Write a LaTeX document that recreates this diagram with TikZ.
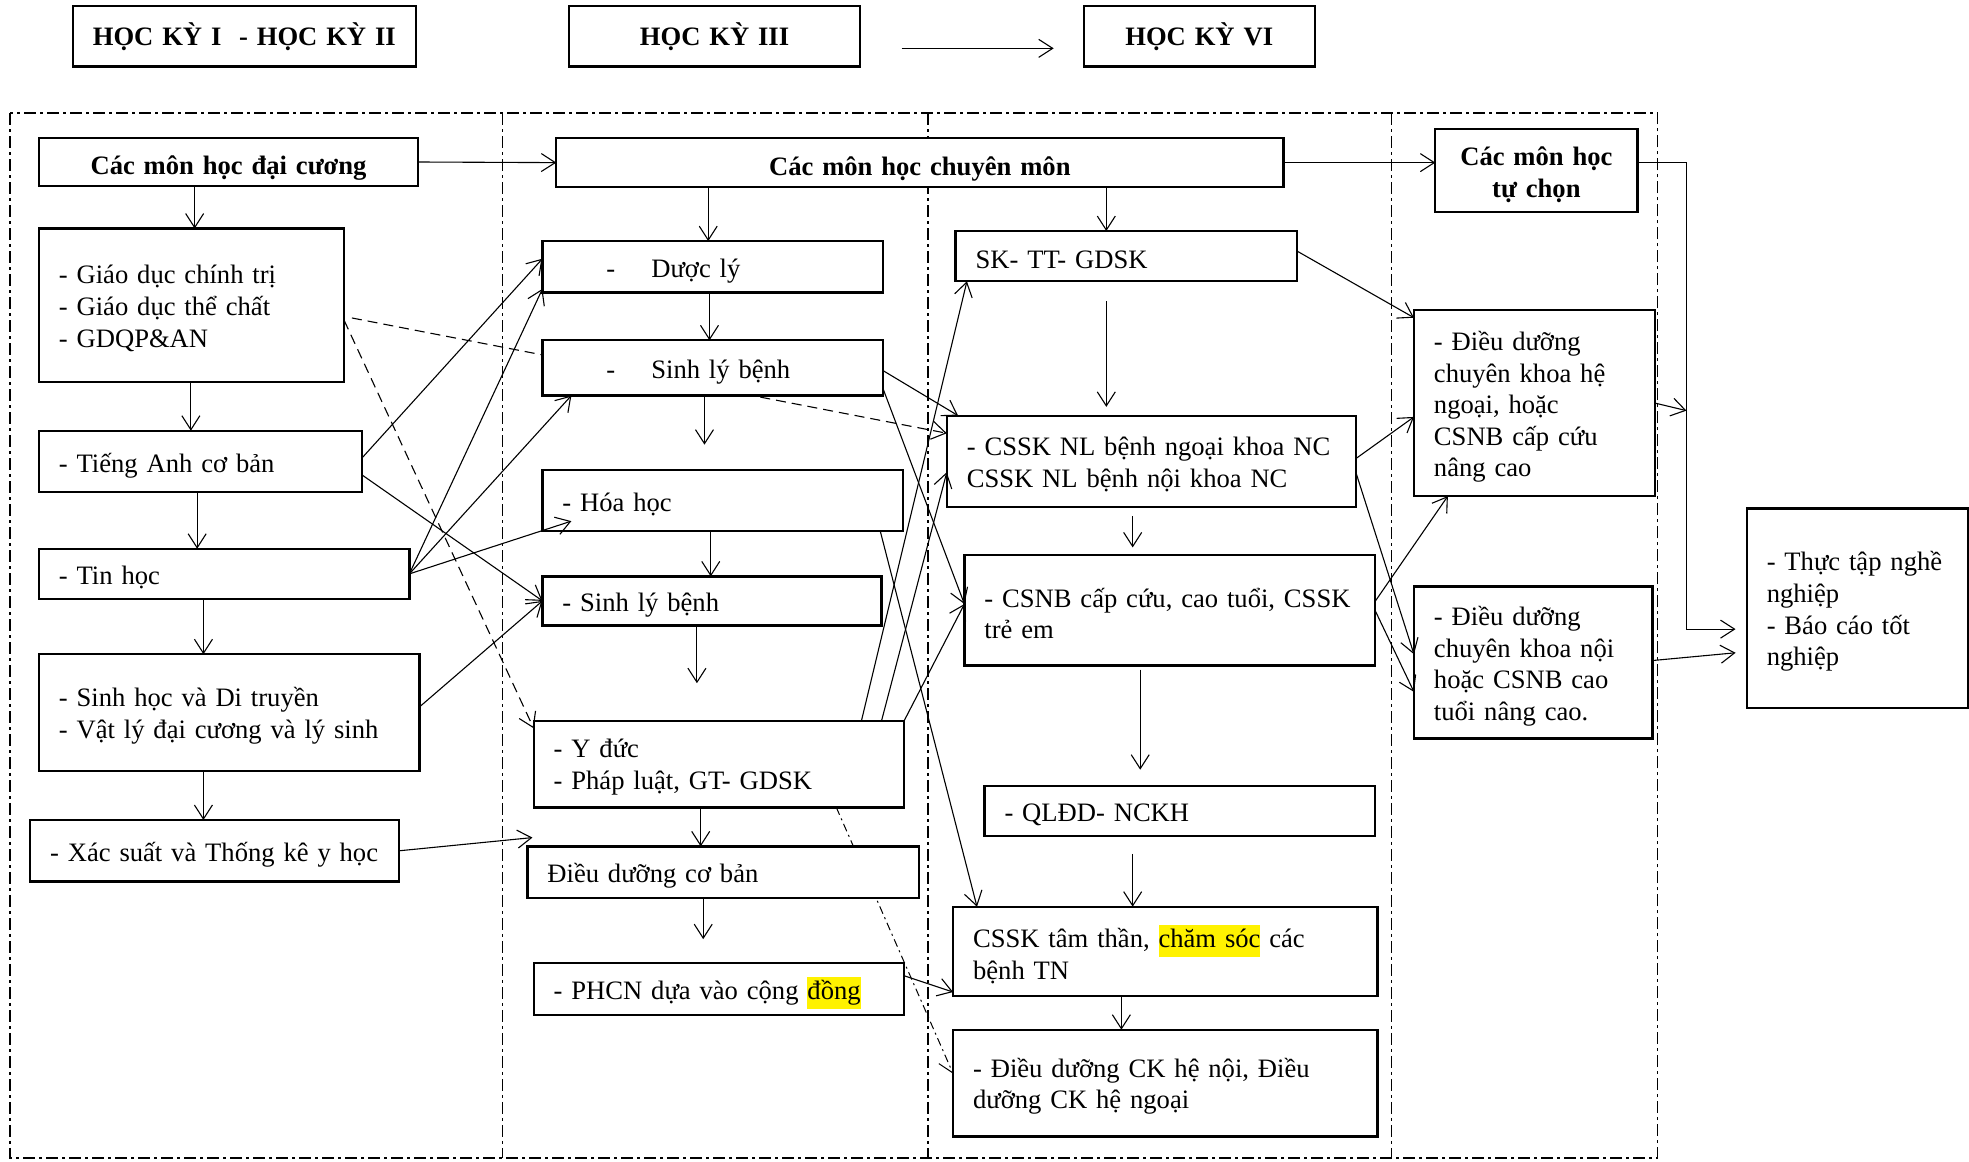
\documentclass[tikz,border=0pt]{standalone}
\usepackage{fontspec}
\setmainfont{Liberation Serif}
\usetikzlibrary{arrows.meta,calc}
\newcommand\myfs{\fontsize{13.3pt}{15.8pt}\selectfont}
\newcommand\hlt[1]{{\setlength{\fboxsep}{0pt}\colorbox{yellow}{\strut#1}}}
\pgfdeclarelayer{bg}
\pgfsetlayers{bg,main}
\tikzset{
  bx/.style 2 args={draw, line width=1.15pt, fill=white, anchor=north west,
     inner xsep=10pt, inner ysep=0pt, outer sep=0pt,
     minimum width=#1*0.6279pt, minimum height=#2*0.6279pt,
     text width=#1*0.6279pt-20pt, align=left, font=\myfs},
  cbx/.style 2 args={bx={#1}{#2}, align=center, font=\myfs\bfseries},
  arr/.style={line width=0.55pt, -{Straight Barb[length=7pt,width=9pt]}},
  dsh/.style={arr, dash pattern=on 5pt off 3pt},
  dshdot/.style={arr, line width=0.5pt, dash pattern=on 4pt off 2pt on 1pt off 2pt},
  framel/.style={line width=0.8pt, dash pattern=on 6pt off 2pt on 1.5pt off 2pt},
}
% #1 style, #2 name, #3 x, #4 y, #5 w, #6 h, #7 text shift, #8 text
\newcommand\bnode[8]{%
  \node[#1={#5}{#6}] (#2) at (#3,#4) {};
  \node[#1={#5}{#6}, draw=none, fill=none, minimum height=0pt, anchor=center,
        yshift=#7] (#2-t) at (#2.center) {#8};
}
\begin{document}
\begin{tikzpicture}[x=0.6279pt,y=-0.6279pt]
\useasboundingbox (0,0) rectangle (1568,925);
% headers
\bnode{cbx}{H1}{58}{5}{273}{48}{0pt}{\mbox{HỌC KỲ I \ - HỌC KỲ II}}
\bnode{cbx}{H2}{453}{5}{232}{48}{0pt}{HỌC KỲ III}
\bnode{cbx}{H3}{863}{5}{184}{48}{0pt}{HỌC KỲ VI}
% column 1
\bnode{cbx}{A}{31}{110}{302}{38}{-3.1pt}{Các môn học đại cương}
\bnode{bx}{B}{31}{182}{243}{122}{-1.6pt}{- Giáo dục chính trị\\- Giáo dục thể chất\\- GDQP\&AN}
\bnode{bx}{C}{31}{343}{257}{49}{-1.9pt}{- Tiếng Anh cơ bản}
\bnode{bx}{D}{31}{437}{295}{40}{-1.9pt}{- Tin học}
\bnode{bx}{E}{31}{521}{303}{93}{-1.6pt}{- Sinh học và Di truyền\\\mbox{- Vật lý đại cương và lý sinh}}
\bnode{bx}{F}{24}{653}{294}{49}{-1.9pt}{\mbox{- Xác suất và Thống kê y học}}
% column 2
\bnode{cbx}{G}{443}{110}{579}{39}{-3.1pt}{Các môn học chuyên môn}
\bnode{bx}{H}{432}{192}{271}{41}{-1.9pt}{\hspace*{22pt}-\hspace{18pt}Dược lý}
\bnode{bx}{I}{432}{271}{271}{44}{-1.9pt}{\hspace*{22pt}-\hspace{18pt}Sinh lý bệnh}
\bnode{bx}{J}{432}{374}{287}{49}{-1.9pt}{- Hóa học}
\bnode{bx}{K}{432}{459}{270}{39}{-1.9pt}{- Sinh lý bệnh}
\bnode{bx}{L}{425}{574}{295}{69}{-1.6pt}{- Y đức\\- Pháp luật, GT- GDSK}
\bnode{bx}{M}{420}{674}{312}{41}{-1.9pt}{Điều dưỡng cơ bản}
\bnode{bx}{N}{425}{767}{295}{41}{-1.9pt}{\mbox{- PHCN dựa vào cộng \hlt{đồng}}}
% column 3
\bnode{bx}{O}{761}{184}{272}{40}{-1.9pt}{SK- TT- GDSK}
\bnode{bx}{P}{754}{331}{326}{73}{-1.6pt}{\mbox{- CSSK NL bệnh ngoại khoa NC}\\\mbox{CSSK NL bệnh nội khoa NC}}
\bnode{bx}{Q}{768}{442}{327}{88}{-1.6pt}{\mbox{- CSNB cấp cứu, cao tuổi, CSSK}\\trẻ em}
\bnode{bx}{R}{784}{626}{311}{40}{-1.9pt}{- QLĐD- NCKH}
\bnode{bx}{S}{759}{722}{338}{71}{-1.6pt}{\mbox{CSSK tâm thần, \hlt{chăm sóc} các}\\bệnh TN}
\bnode{bx}{T}{759}{820}{338}{85}{-1.6pt}{\mbox{- Điều dưỡng CK hệ nội, Điều}\\dưỡng CK hệ ngoại}
% column 4
\bnode{cbx}{U}{1143}{103}{161}{66}{-1.9pt}{Các môn học\\tự chọn}
\bnode{bx}{V}{1126}{247}{192}{148}{-1.9pt}{- Điều dưỡng\\\mbox{chuyên khoa hệ}\\ngoại, hoặc\\\mbox{CSNB cấp cứu}\\nâng cao}
\bnode{bx}{W}{1126}{467}{190}{121}{-1.9pt}{- Điều dưỡng\\\mbox{chuyên khoa nội}\\\mbox{hoặc CSNB cao}\\tuổi nâng cao.}
\bnode{bx}{X}{1391}{405}{176}{159}{-1.6pt}{\mbox{- Thực tập nghề}\\nghiệp\\- Báo cáo tốt\\nghiệp}
\coordinate (jt) at (1343,327);

\begin{pgfonlayer}{bg}
\draw[framel] (8,90) rectangle (1320,922);
\draw[framel] (400,90) -- (400,922);
\draw[framel] (739,90) -- (739,922);
\draw[framel] (1108,90) -- (1108,922);
\draw[dsh, shorten <=4pt] (B.east |- 0,252) -- (P.west |- 0,345);
\draw[dsh] (B.east |- 0,255) -- (L.west |- 0,580);
\draw[dshdot] (L.south -| 666,0) -- (T.west |- 0,855);
\end{pgfonlayer}

% header arrow
\draw[arr, shorten <=20.7pt, shorten >=15pt] (H2.east |- 0,38.5) -- (H3.west |- 0,38.5);
% column 1
\draw[arr] (A.south -| 155,0) -- (B.north -| 155,0);
\draw[arr] (B.south -| 152,0) -- (C.north -| 152,0);
\draw[arr] (C.south -| 157,0) -- (D.north -| 157,0);
\draw[arr] (D.south -| 162,0) -- (E.north -| 162,0);
\draw[arr] (E.south -| 162,0) -- (F.north -| 162,0);
\draw[arr] (A.east) -- (G.west);
\draw[arr] (C.east |- 0,365) -- (H.west |- 0,206);
\draw[arr] (C.east |- 0,378) -- (K.west);
\draw[arr] (D.east) -- (H.west |- 0,230);
\draw[arr] (D.east) -- (I.south -| 455,0);
\draw[arr] (D.east) -- ([shift={(23,-8)}]J.south west);
\draw[arr] (E.east |- 0,563) -- (K.west);
\draw[arr] (F.east) -- ([shift={(4,-7)}]M.north west);
% column 2
\draw[arr] (G.south -| 564,0) -- (H.north -| 564,0);
\draw[arr] (H.south -| 565,0) -- (I.north -| 565,0);
\draw[arr, shorten >=12.5pt] (I.south -| 561,0) -- (J.north -| 561,0);
\draw[arr] (J.south -| 566,0) -- (K.north -| 566,0);
\draw[arr, shorten >=18.8pt] (K.south -| 555,0) -- (L.north -| 555,0);
\draw[arr] (L.south -| 558,0) -- (M.north -| 558,0);
\draw[arr, shorten >=12pt] (M.south -| 560,0) -- (N.north -| 560,0);
% column 2 -> 3
\draw[arr] (L.north -| 686,0) -- (O.south -| 770,0);
\draw[arr] (L.north -| 702,0) -- (P.west |- 0,376);
\draw[arr] (L.north east) -- (Q.west |- 0,481);
\draw[arr] (I.east |- 0,295) -- (P.north -| 763,0);
\draw[arr] (I.east |- 0,309) -- (Q.west |- 0,481);
\draw[arr] (J.south -| 701,0) -- (S.north -| 778,0);
\draw[arr] (N.east |- 0,777) -- (S.west |- 0,790);
% column 3
\draw[arr] (G.south -| 881,0) -- (O.north -| 881,0);
\draw[arr, shorten <=10pt, shorten >=4.4pt] (O.south -| 881,0) -- (P.north -| 881,0);
\draw[arr, shorten <=4.4pt, shorten >=3.8pt] (P.south -| 902,0) -- (Q.north -| 902,0);
\draw[arr, shorten <=2pt, shorten >=8.2pt] (Q.south -| 908,0) -- (R.north -| 908,0);
\draw[arr, shorten <=8.8pt] (R.south -| 902,0) -- (S.north -| 902,0);
\draw[arr] (S.south -| 893,0) -- (T.north -| 893,0);
% column 3 -> 4
\draw[arr] (G.east) -- (U.west |- G.east);
\draw[arr] (O.east |- 0,200) -- (V.west |- 0,253);
\draw[arr] (P.east |- 0,365) -- (V.west |- 0,332);
\draw[arr] (P.east |- 0,377) -- (W.west |- 0,521);
\draw[arr] (Q.east |- 0,479) -- (V.south -| 1153,0);
\draw[arr] (Q.east |- 0,486) -- (W.west |- 0,551);
% to X
\draw[arr, shorten >=5.6pt] (U.east |- G.east) -| (jt) |- (X.west |- 0,501);
\draw[arr] (V.east |- 0,321) -- (jt);
\draw[arr, shorten >=5.6pt] (W.east |- 0,526) -- (X.west |- 0,519);
\end{tikzpicture}
\end{document}
